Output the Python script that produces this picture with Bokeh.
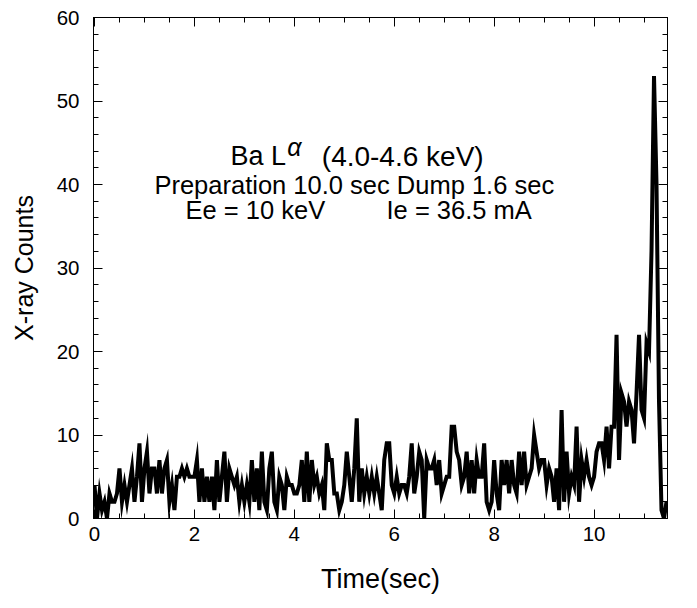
import numpy as np
from bokeh.plotting import figure
from bokeh.models import LinearAxis, Label, SingleIntervalTicker, Range1d
from bokeh.embed import file_html
from bokeh.resources import INLINE

# ---- data (counts sampled every 0.05 s) ----
dt = 0.05
counts_0_5 = [
    4, 0, 3, 1, 2, 0, 3, 2, 2, 3, 6, 2, 4, 2, 4, 6, 2, 5, 9, 2,
    6, 8, 3, 6, 6, 3, 7, 3, 6, 7, 2, 4, 1, 5, 5, 6, 5, 6, 5, 5,
    5, 7, 2, 6, 2, 5, 2, 5, 1, 7, 2, 5, 8, 2, 6, 5, 4, 5, 2, 4,
    2, 4, 2, 7, 2, 6, 1, 8, 2, 1, 6, 8, 2, 1, 5, 4, 1, 5, 4, 4,
    3, 3, 4, 7, 2, 8, 2, 7, 4, 5, 3, 4, 1, 9, 7, 7, 3, 3, 1, 2,
]
counts_5_10 = [
    4, 8, 5, 2, 6, 12, 2, 6, 3, 5, 3, 5, 3, 5, 3, 1, 7, 9, 9, 4,
    3, 5, 3, 4, 4, 3, 5, 9, 3, 5, 8, 7, 0, 7, 6, 6, 7, 4, 7, 3,
    4, 5, 5, 11, 11, 8, 7, 4, 5, 8, 3, 7, 3, 7, 5, 5, 9, 2, 1, 2,
    7, 3, 1, 7, 4, 7, 3, 7, 4, 3, 8, 4, 8, 4, 5, 6, 10, 8, 6, 7,
    7, 4, 6, 5, 2, 6, 1, 13, 2, 8, 3, 5, 4, 11, 2, 7, 5, 7, 5, 4,
]
counts_10_end = [
    5, 8, 9, 9, 7, 11, 6, 11, 11, 22, 7, 15, 14, 11, 14, 13, 9, 15, 22, 13,
    12, 21, 20, 32, 53, 40, 14, 1, 0, 2,
]
counts = counts_0_5 + counts_5_10 + counts_10_end
time = [i * dt for i in range(len(counts))]

x_ticks_major = 2
x_ticks_minor = 0.5
y_ticks_major = 10
y_ticks_minor = 2

FONT = "Liberation Sans"

p = figure(
    width=681, height=592,
    frame_width=574, frame_height=501,
    x_range=Range1d(-0.02, 11.47), y_range=Range1d(0, 60),
    output_backend="svg", toolbar_location=None,
    min_border_left=93, min_border_right=14, min_border_top=17, min_border_bottom=74,
)
p.background_fill_color = "white"
p.border_fill_color = "white"
p.outline_line_color = "black"
p.outline_line_width = 1
p.xgrid.visible = False
p.ygrid.visible = False

p.line(time, counts, line_color="black", line_width=4, line_join="miter")

def style_axis(ax, major, minor, show_labels=True):
    ax.ticker = SingleIntervalTicker(interval=major, num_minor_ticks=int(round(major / minor)))
    ax.axis_line_color = "black"
    ax.axis_line_width = 1
    ax.major_tick_in = 9
    ax.major_tick_out = 0
    ax.minor_tick_in = 5
    ax.minor_tick_out = 0
    ax.major_tick_line_color = "black"
    ax.minor_tick_line_color = "black"
    ax.major_label_text_font = FONT
    ax.major_label_text_color = "black"
    ax.major_label_text_font_size = "20.5px"
    if not show_labels:
        ax.major_label_text_font_size = "0px"
        ax.major_label_text_color = None
        ax.major_label_standoff = 0

xa = p.xaxis[0]
ya = p.yaxis[0]
style_axis(xa, x_ticks_major, x_ticks_minor)
style_axis(ya, y_ticks_major, y_ticks_minor)
xa.major_label_standoff = 8
ya.major_label_standoff = 14
xa.axis_label = "Time(sec)"
ya.axis_label = "X-ray Counts"
for ax in (xa, ya):
    ax.axis_label_text_font = FONT
    ax.axis_label_text_font_style = "normal"
    ax.axis_label_text_color = "black"
xa.axis_label_text_font_size = "27px"
ya.axis_label_text_font_size = "25px"
xa.axis_label_standoff = 20
ya.axis_label_standoff = 16

top = LinearAxis()
right = LinearAxis()
style_axis(top, x_ticks_major, x_ticks_minor, show_labels=False)
style_axis(right, y_ticks_major, y_ticks_minor, show_labels=False)
p.add_layout(top, "above")
p.add_layout(right, "right")

def lab(x, y, text, style="normal", size="25.5px", align="left"):
    p.add_layout(Label(x=x, y=y, text=text, text_font=FONT, text_font_size=size,
                       text_font_style=style, text_color="black",
                       text_align=align, text_baseline="alphabetic"))

lab(2.72, 43.4, "Ba L", size="27px")
lab(3.86, 44.5, "\u03b1", style="italic", size="25px")
lab(4.55, 43.4, "(4.0-4.6 keV)", size="28px")
lab(5.2, 39.9, "Preparation 10.0 sec Dump 1.6 sec", align="center")
lab(3.22, 36.9, "Ee = 10 keV", align="center")
lab(7.3, 36.9, "Ie = 36.5 mA", align="center")

open("out.html", "w").write(file_html(p, INLINE))
